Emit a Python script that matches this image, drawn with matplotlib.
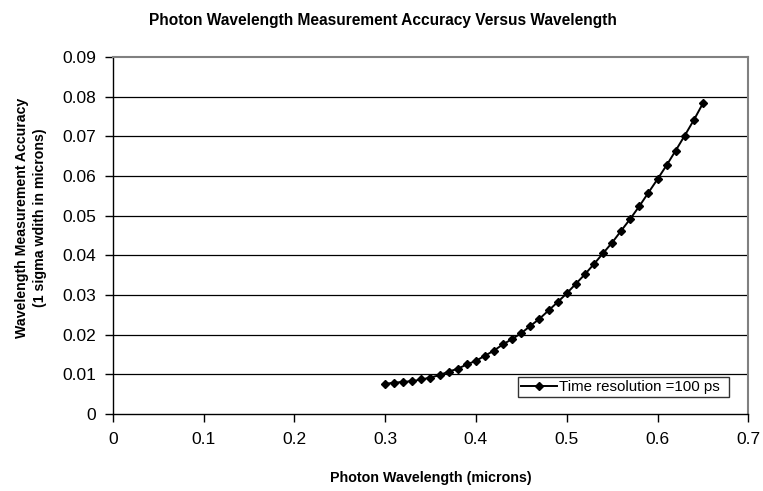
import matplotlib
matplotlib.use("Agg")
import matplotlib.pyplot as plt
import numpy as np

plt.rcParams['font.family'] = ['Liberation Sans', 'DejaVu Sans']

wavelength = [0.30, 0.31, 0.32, 0.33, 0.34, 0.35, 0.36, 0.37, 0.38, 0.39,
              0.40, 0.41, 0.42, 0.43, 0.44, 0.45, 0.46, 0.47, 0.48, 0.49,
              0.50, 0.51, 0.52, 0.53, 0.54, 0.55, 0.56, 0.57, 0.58, 0.59,
              0.60, 0.61, 0.62, 0.63, 0.64, 0.65]
accuracy = [0.0076, 0.0079, 0.0081, 0.0083, 0.0087, 0.0092, 0.0098, 0.0107, 0.0114, 0.0125,
            0.0134, 0.0147, 0.0160, 0.0176, 0.0189, 0.0204, 0.0222, 0.0240, 0.0261, 0.0282,
            0.0304, 0.0328, 0.0352, 0.0378, 0.0405, 0.0432, 0.0462, 0.0492, 0.0524, 0.0558,
            0.0592, 0.0627, 0.0664, 0.0702, 0.0741, 0.0783]
series_label = "Time resolution =100 ps"
x_ticks = [0, 0.1, 0.2, 0.3, 0.4, 0.5, 0.6, 0.7]
x_tick_labels = ["0", "0.1", "0.2", "0.3", "0.4", "0.5", "0.6", "0.7"]
y_ticks = [0, 0.01, 0.02, 0.03, 0.04, 0.05, 0.06, 0.07, 0.08, 0.09]
y_tick_labels = ["0", "0.01", "0.02", "0.03", "0.04", "0.05", "0.06", "0.07", "0.08", "0.09"]

fig = plt.figure(figsize=(7.63, 4.91), dpi=100)
ax = fig.add_axes([112.7/763, (491-414)/491, (748.3-112.7)/763, (414-57)/491])

ax.set_xlim(0, 0.7)
ax.set_ylim(0, 0.09)
ax.set_yticks(y_ticks)
ax.set_yticklabels(y_tick_labels)
ax.set_xticks(x_ticks)
ax.set_xticklabels(x_tick_labels)

for y in y_ticks[1:-1]:
    ax.axhline(y, color='black', lw=0.9, zorder=1)

ax.plot(wavelength, accuracy, color='black', lw=1.4, marker='D', markersize=4.5,
        markerfacecolor='black', markeredgecolor='black', label=series_label, zorder=3)

for s in ['top', 'right']:
    ax.spines[s].set_color('#808080')
    ax.spines[s].set_linewidth(1.5)
for s in ['left', 'bottom']:
    ax.spines[s].set_color('black')
    ax.spines[s].set_linewidth(1.0)

ax.tick_params(axis='both', direction='out', length=6, width=1.0, colors='black',
               labelsize=12.5)
ax.tick_params(axis='x', pad=7)
ax.tick_params(axis='y', pad=6)

ax.set_xlabel("Photon Wavelength (microns)", fontsize=10.3, fontweight='bold', labelpad=17)
ax.set_ylabel("Wavelength Measurement Accuracy\n(1 sigma wdith in microns)", fontsize=10.2,
              fontweight='bold', linespacing=1.35)
ax.yaxis.set_label_coords(-0.103, 0.549)
fig.text(383/763, 1 - 20/491,
         "Photon Wavelength Measurement Accuracy Versus Wavelength",
         ha='center', va='center', fontsize=11.2, fontweight='bold')

leg = ax.legend(loc='lower left', bbox_to_anchor=(0.638, 0.048, 0.332, 0.062),
                mode='expand', frameon=True, fancybox=False, shadow=False,
                fontsize=10.8, handlelength=2.4, borderpad=0.2, handletextpad=0.1,
                borderaxespad=0)
leg.get_frame().set_edgecolor('black')
leg.get_frame().set_linewidth(1.0)

fig.savefig("out.png", dpi=100)
